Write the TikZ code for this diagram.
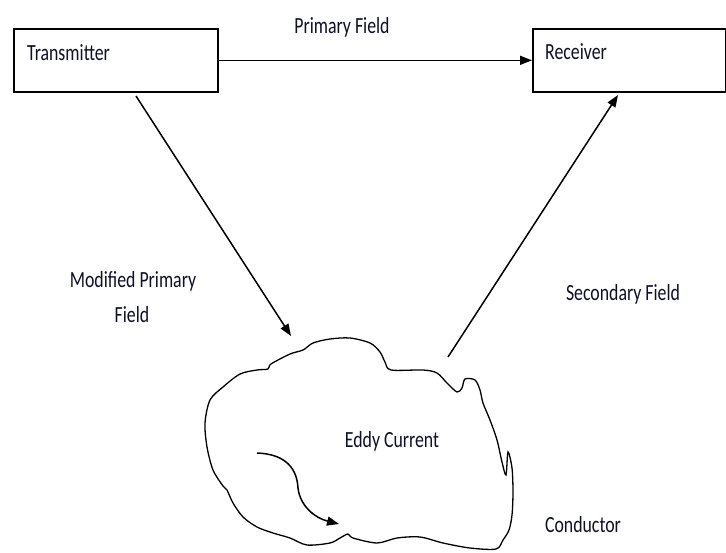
\documentclass[tikz,border=0pt]{standalone}
\usepackage{fontspec}
\setmainfont{Carlito}
\usepackage{graphicx}
\usetikzlibrary{arrows.meta}
\definecolor{txtc}{RGB}{15,15,40}
\newcommand\stt[1]{\scalebox{1}[1.3]{#1}}
\begin{document}
\begin{tikzpicture}[x=1pt,y=-1pt,
  lbl/.style={inner sep=0pt, text=txtc, font=\fontsize{17.8}{20}\selectfont},
  boxst/.style={draw, line width=1.6pt, anchor=north west, inner sep=0pt},
  arr/.style={line width=1.5pt, -{Triangle[length=12pt,width=9pt]}},
  blob/.style={line width=1.3pt}]
\useasboundingbox (0,0) rectangle (726,552);
% boxes
\node[boxst, minimum width=204pt, minimum height=63pt] (tx) at (13,28) {};
\node[boxst, minimum width=193pt, minimum height=63pt] (rx) at (532,28) {};
% labels
\node[lbl, anchor=base west] (txl) at (27,60) {\stt{Transmitter}};
\node[lbl, anchor=base west] (rxl) at (545,59) {\stt{Receiver}};
\node[lbl, anchor=base] (pf) at (342,33) {\stt{Primary Field}};
\node[lbl, anchor=base] (mpf1) at (133,287) {\stt{Modified Primary}};
\node[lbl, anchor=base] (mpf2) at (132,322) {\stt{Field}};
\node[lbl, anchor=base] (sf) at (623,300) {\stt{Secondary Field}};
\node[lbl, anchor=base] (cond) at (583,532) {\stt{Conductor}};
\node[lbl, anchor=base] (eddy) at (392,447) {\stt{Eddy Current}};
% conductor outline
\draw[blob] plot[smooth cycle, tension=0.5] coordinates {
 (257,370) (268,369) (271,364) (290,354) (303,350) (313,343) (330,339)
 (350,338) (370,343) (380,352) (385,362) (391,370) (423,370) (437,373)
 (447,383) (457,392) (462,388) (465,379) (475,380) (480,390) (483,403)
 (490,420) (497,440) (502,462) (506,475) (508,452) (512,468) (513,492)
 (512,515) (509,530) (503,540) (496,549) (470,548) (443,543) (420,537)
 (397,538) (377,543) (353,538) (348,534) (340,538) (330,543) (307,545)
 (290,538) (273,533) (257,527) (243,517) (233,503) (227,490) (223,486)
 (213,470) (207,447) (205,423) (210,400) (223,387) (240,374)};
% connector end points
\coordinate (mstart) at (136,96);
\coordinate (mend) at (291,336);
\coordinate (sstart) at (448,357);
\coordinate (send) at (618,95);
\coordinate (estart) at (257,453);
\coordinate (eend) at (339,524);
% connectors
\draw[arr] (tx.east) -- (rx.west);
\draw[arr] (mstart) -- (mend);
\draw[arr] (sstart) -- (send);
\draw[arr] (estart) .. controls (285,454) and (297,468) .. (298,488)
  .. controls (300,506) and (315,518) .. (eend);
\end{tikzpicture}
\end{document}
